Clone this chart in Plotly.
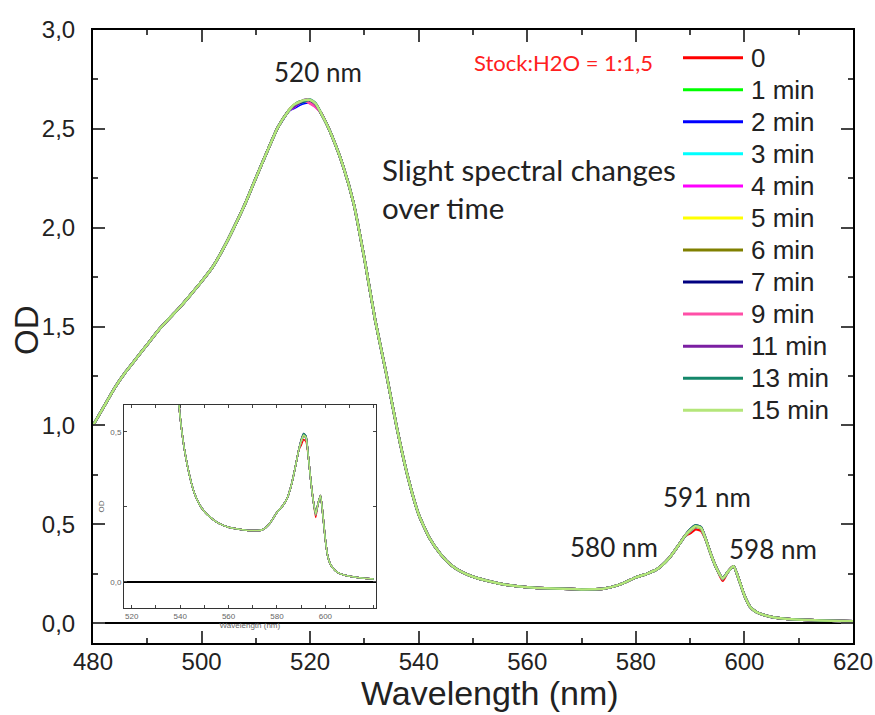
import plotly.graph_objects as go

# ---------------- data ----------------
wavelength = [480, 482, 484, 486, 488, 490, 492, 494, 496, 498, 500, 502, 504, 506, 508,
              510, 512, 514, 516, 517, 518, 519, 520, 521, 522, 523, 524, 526, 528, 530,
              532, 534, 536, 538, 540, 542, 544, 546, 548, 550, 553, 556, 560, 565, 570,
              574, 577, 580, 582, 584, 586, 588, 589, 590, 591, 592, 593, 594, 595, 596,
              597, 598, 599, 600, 601, 602, 603, 605, 608, 612, 616, 620]
od_base = [1.000, 1.095, 1.190, 1.270, 1.340, 1.410, 1.480, 1.540, 1.598, 1.662, 1.728, 1.800, 1.894, 2.003, 2.120,
           2.252, 2.380, 2.505, 2.590, 2.620, 2.636, 2.644, 2.643, 2.625, 2.580, 2.527, 2.465, 2.318, 2.125, 1.843,
           1.530, 1.265, 0.985, 0.740, 0.550, 0.430, 0.350, 0.293, 0.258, 0.235, 0.212, 0.195, 0.182, 0.175, 0.171,
           0.174, 0.195, 0.232, 0.250, 0.275, 0.325, 0.400, 0.440, 0.470, 0.488, 0.480, 0.415, 0.335, 0.270, 0.226,
           0.262, 0.288, 0.220, 0.140, 0.085, 0.060, 0.047, 0.032, 0.022, 0.016, 0.012, 0.010]

series_names = ["0", "1 min", "2 min", "3 min", "4 min", "5 min", "6 min", "7 min",
                "9 min", "11 min", "13 min", "15 min"]
series_colors = ["#FF0000", "#00FF00", "#0000FF", "#00FFFF", "#FF00FF", "#FFFF00",
                 "#808000", "#000080", "#FF4FA7", "#7B1FA2", "#14876A", "#B4E67A"]

# per-series readings at the peaks (where the curves differ slightly)
peak_wl = [517, 518, 519, 520, 521, 590, 591, 592, 596]
peak_0 = [2.618, 2.632, 2.640, 2.638, 2.620, 0.455, 0.475, 0.468, 0.215]
peak_1 = [2.620, 2.636, 2.645, 2.642, 2.622, 0.470, 0.490, 0.482, 0.226]
peak_2 = [2.605, 2.620, 2.630, 2.635, 2.618, 0.468, 0.487, 0.480, 0.224]
peak_3 = [2.612, 2.628, 2.638, 2.640, 2.620, 0.466, 0.486, 0.479, 0.223]
peak_4 = [2.610, 2.630, 2.645, 2.630, 2.610, 0.468, 0.488, 0.480, 0.224]
peak_5 = [2.620, 2.635, 2.645, 2.643, 2.625, 0.468, 0.488, 0.480, 0.224]
peak_6 = [2.618, 2.634, 2.644, 2.645, 2.626, 0.470, 0.490, 0.482, 0.225]
peak_7 = [2.615, 2.630, 2.640, 2.642, 2.624, 0.472, 0.492, 0.484, 0.226]
peak_9 = [2.620, 2.636, 2.642, 2.628, 2.612, 0.472, 0.493, 0.485, 0.226]
peak_11 = [2.612, 2.632, 2.648, 2.645, 2.622, 0.474, 0.495, 0.486, 0.227]
peak_13 = [2.620, 2.638, 2.640, 2.648, 2.630, 0.474, 0.495, 0.486, 0.227]
peak_15 = [2.622, 2.636, 2.646, 2.646, 2.628, 0.470, 0.490, 0.482, 0.226]
peak_values = [peak_0, peak_1, peak_2, peak_3, peak_4, peak_5, peak_6, peak_7,
               peak_9, peak_11, peak_13, peak_15]

y_tickvals = [0, 0.5, 1.0, 1.5, 2.0, 2.5, 3.0]
y_ticktext = ["0,0", "0,5", "1,0", "1,5", "2,0", "2,5", "3,0"]
x_tickvals = [480, 500, 520, 540, 560, 580, 600, 620]
inset_x_tickvals = [520, 540, 560, 580, 600]
inset_y_tickvals = [0, 0.5]
inset_y_ticktext = ["0,0", "0,5"]

# ---------------- figure ----------------
AX_FONT = "Liberation Sans, Arial, sans-serif"
ANN_FONT = "Lato, Carlito, Calibri, sans-serif"
TXT = "#222222"

W, H = 875, 715
ML, MR, MT, MB = 93, 22, 30, 72
PW, PH = W - ML - MR, H - MT - MB


def px_to_paper(px, py):
    return (px - ML) / PW, (H - MB - py) / PH


fig = go.Figure()


def series_values(pk):
    ys = list(od_base)
    for w, v in zip(peak_wl, pk):
        ys[wavelength.index(w)] = v
    return ys


for name, color, pk in zip(series_names, series_colors, peak_values):
    fig.add_trace(go.Scatter(x=wavelength, y=series_values(pk), mode="lines", name=name,
                             showlegend=False,
                             line=dict(color=color, width=2.5, shape="spline", smoothing=0.5),
                             xaxis="x", yaxis="y"))
for name, color, pk in zip(series_names, series_colors, peak_values):
    fig.add_trace(go.Scatter(x=wavelength, y=series_values(pk), mode="lines", name=name,
                             showlegend=False,
                             line=dict(color=color, width=1.5, shape="spline", smoothing=0.5),
                             xaxis="x2", yaxis="y2"))

fig.update_layout(
    width=W, height=H,
    margin=dict(l=ML, r=MR, t=MT, b=MB),
    paper_bgcolor="white", plot_bgcolor="white",
    font=dict(family=AX_FONT, color=TXT),
    showlegend=False,
    xaxis=dict(range=[480, 620], tickvals=x_tickvals, ticks="inside", ticklen=12, tickwidth=2,
               minor=dict(dtick=10, ticks="inside", ticklen=5, tickwidth=2, tick0=480),
               showline=True, linecolor="black", linewidth=2, mirror="ticks",
               showgrid=False, zeroline=False, automargin=False,
               ticklabelstandoff=-4,
               tickfont=dict(size=24, family=AX_FONT, color=TXT)),
    yaxis=dict(range=[-0.1, 3.0], tickvals=y_tickvals, ticktext=y_ticktext, ticks="inside",
               ticklen=12, tickwidth=2,
               minor=dict(dtick=0.25, ticks="inside", ticklen=5, tickwidth=2, tick0=0),
               showline=True, linecolor="black", linewidth=2, mirror="ticks",
               showgrid=False, zeroline=True, zerolinecolor="black", zerolinewidth=2,
               ticklabelstandoff=11, automargin=False,
               tickfont=dict(size=24, family=AX_FONT, color=TXT)),
    xaxis2=dict(domain=[0.0408, 0.372], anchor="y2", range=[516.8, 620.8],
                tickvals=inset_x_tickvals, ticks="inside", ticklen=3, tickwidth=1,
                minor=dict(dtick=10, ticks="inside", ticklen=3, tickwidth=1, tick0=520),
                showline=True, linecolor="#333333", linewidth=1, mirror="ticks",
                showgrid=False, zeroline=False, automargin=False,
                tickfont=dict(size=8, color="#666666"),
                title=dict(text="Wavelength (nm)", font=dict(size=8, color="#666666"), standoff=0)),
    yaxis2=dict(domain=[0.0571, 0.3883], anchor="x2", range=[-0.087, 0.59],
                tickvals=inset_y_tickvals, ticktext=inset_y_ticktext, ticks="inside",
                ticklen=3, tickwidth=1,
                minor=dict(dtick=0.25, ticks="inside", ticklen=3, tickwidth=1, tick0=0),
                showline=True, linecolor="#333333", linewidth=1, mirror="ticks",
                showgrid=False, zeroline=True, zerolinecolor="black", zerolinewidth=1.5,
                automargin=False,
                tickfont=dict(size=8, color="#666666"),
                title=dict(text="OD", font=dict(size=8, color="#666666"), standoff=4)),
)

# ---- axis titles (placed as text) ----
tx, ty = px_to_paper(26, 330)
fig.add_annotation(text="OD", xref="paper", yref="paper", x=tx, y=ty, textangle=-90,
                   xanchor="center", yanchor="middle", showarrow=False,
                   font=dict(size=33, family=AX_FONT, color=TXT))
tx, ty = px_to_paper(490, 693)
fig.add_annotation(text="Wavelength (nm)", xref="paper", yref="paper", x=tx, y=ty,
                   xanchor="center", yanchor="middle", showarrow=False,
                   font=dict(size=34, family=AX_FONT, color=TXT))

# ---- legend drawn as line samples + labels ----
LEG_X0, LEG_X1, LEG_TX, LEG_Y0, LEG_DY = 683, 743, 749, 57.7, 32.05
for i, (name, color) in enumerate(zip(series_names, series_colors)):
    py = LEG_Y0 + i * LEG_DY
    x0, y0 = px_to_paper(LEG_X0, py)
    x1, _ = px_to_paper(LEG_X1, py)
    xt, _ = px_to_paper(LEG_TX, py)
    fig.add_shape(type="line", xref="paper", yref="paper", x0=x0, x1=x1, y0=y0, y1=y0,
                  line=dict(color=color, width=3))
    fig.add_annotation(text=name, xref="paper", yref="paper", x=xt, y=y0,
                       xanchor="left", yanchor="middle", showarrow=False,
                       font=dict(size=26, family=AX_FONT, color=TXT))

annots = [
    dict(text="520 nm", x=521.4, y=2.79, size=26, color=TXT, xanchor="center"),
    dict(text="Slight spectral changes<br>over time", x=532.9, y=2.2, size=29.5, color=TXT, xanchor="left"),
    dict(text="Stock:H2O = 1:1,5", x=566.6, y=2.836, size=22, color="#FF2020", xanchor="center"),
    dict(text="591 nm", x=593.1, y=0.636, size=26, color=TXT, xanchor="center"),
    dict(text="580 nm", x=575.9, y=0.383, size=26, color=TXT, xanchor="center"),
    dict(text="598 nm", x=605.2, y=0.373, size=26, color=TXT, xanchor="center"),
]
for a in annots:
    fig.add_annotation(text=a["text"], x=a["x"], y=a["y"], xref="x", yref="y",
                       xanchor=a["xanchor"], yanchor="middle", showarrow=False, align="left",
                       font=dict(size=a["size"], family=ANN_FONT, color=a["color"]))

fig.write_html("out.html", config={"displayModeBar": False},
               post_script="document.body.style.margin='0';document.body.style.overflow='hidden';")
